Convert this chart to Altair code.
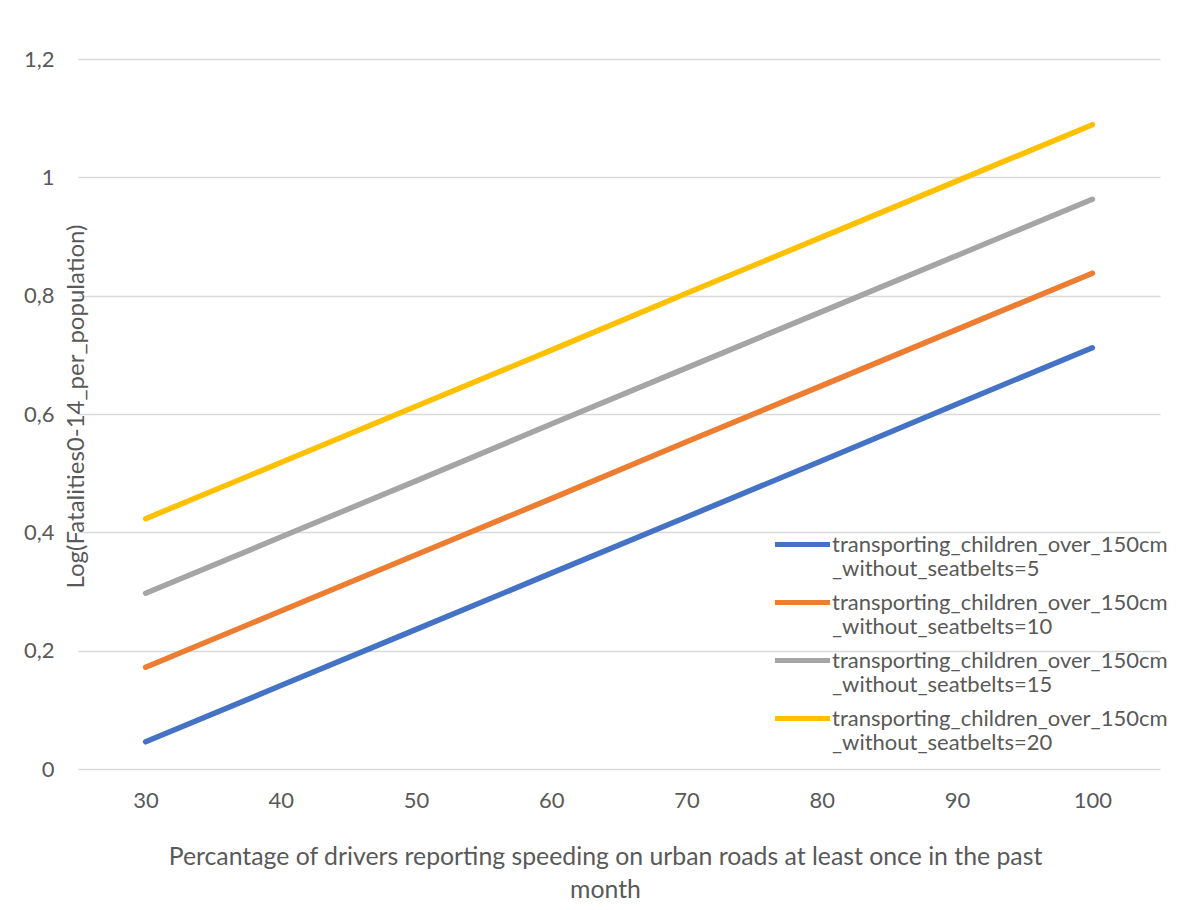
import altair as alt
import pandas as pd

x_vals = [30, 40, 50, 60, 70, 80, 90, 100]
series_names = [
    "transporting_children_over_150cm_without_seatbelts=5",
    "transporting_children_over_150cm_without_seatbelts=10",
    "transporting_children_over_150cm_without_seatbelts=15",
    "transporting_children_over_150cm_without_seatbelts=20",
]
blue_vals = [0.046, 0.141, 0.236, 0.331, 0.426, 0.521, 0.617, 0.712]
orange_vals = [0.172, 0.267, 0.362, 0.457, 0.553, 0.648, 0.743, 0.838]
gray_vals = [0.297, 0.392, 0.487, 0.583, 0.678, 0.773, 0.868, 0.963]
yellow_vals = [0.423, 0.518, 0.613, 0.708, 0.804, 0.899, 0.994, 1.089]
colors = ["#4472C4", "#ED7D31", "#A5A5A5", "#FFC000"]
y_ticks = [0, 0.2, 0.4, 0.6, 0.8, 1.0, 1.2]
x_title = ["Percantage of drivers reporting speeding on urban roads at least once in the past", "month"]
y_title = "Log(Fatalities0-14_per_population)"

rows = []
for name, vals in zip(series_names, [blue_vals, orange_vals, gray_vals, yellow_vals]):
    for xv, yv in zip(x_vals, vals):
        rows.append({"x": xv, "y": yv, "series": name})
df = pd.DataFrame(rows)

FONT = "Lato"
TXT = "#595959"
GRID = "#D9D9D9"

chart = alt.Chart(df).mark_line(strokeWidth=5.5, strokeCap="round", strokeJoin="round").encode(
    x=alt.X(
        "x:O",
        scale=alt.Scale(type="point", padding=0.5),
        axis=alt.Axis(
            title=x_title,
            labelAngle=0,
            labelFont=FONT, labelFontSize=22, labelColor=TXT, labelPadding=21,
            ticks=False, tickSize=0, domain=False, grid=False,
            titleFont=FONT, titleFontSize=24.8, titleColor=TXT, titleFontWeight="normal",
            titleX=527, titleY=95, titleAlign="center", titleBaseline="alphabetic",
            titleLineHeight=33,
        ),
    ),
    y=alt.Y(
        "y:Q",
        scale=alt.Scale(domain=[0, 1.2], nice=False),
        axis=alt.Axis(
            title=y_title,
            values=y_ticks,
            labelExpr="replace(format(datum.value, '~g'), '.', ',')",
            labelFont=FONT, labelFontSize=22, labelColor=TXT, labelPadding=24,
            ticks=False, tickSize=0, domain=False,
            grid=True, gridColor=GRID, gridWidth=1.5,
            titleFont=FONT, titleFontSize=24, titleColor=TXT, titleFontWeight="normal",
            titleAngle=270, titleX=5, titleY=347, titleAlign="center", titleBaseline="alphabetic",
        ),
    ),
    color=alt.Color(
        "series:N",
        scale=alt.Scale(domain=series_names, range=colors),
        legend=alt.Legend(
            title=None,
            orient="none",
            legendX=708,
            legendY=469,
            padding=0,
            symbolType="M-2,0H2",
            symbolSize=756,
            symbolStrokeWidth=5,
            labelFont=FONT, labelFontSize=22, labelColor=TXT,
            labelLimit=600, labelOffset=13,
            labelBaseline="middle",
            labelExpr="[slice(datum.label, 0, 32), slice(datum.label, 32)]",
            rowPadding=6,
        ),
    ),
).properties(
    width=1082,
    height=710,
    autosize=alt.AutoSizeParams(type="none"),
    padding={"left": 70, "top": 51, "right": 10, "bottom": 133},
    background="white",
).configure_view(stroke=None)

chart.save("out.html", embed_options={"renderer": "svg", "actions": False})
